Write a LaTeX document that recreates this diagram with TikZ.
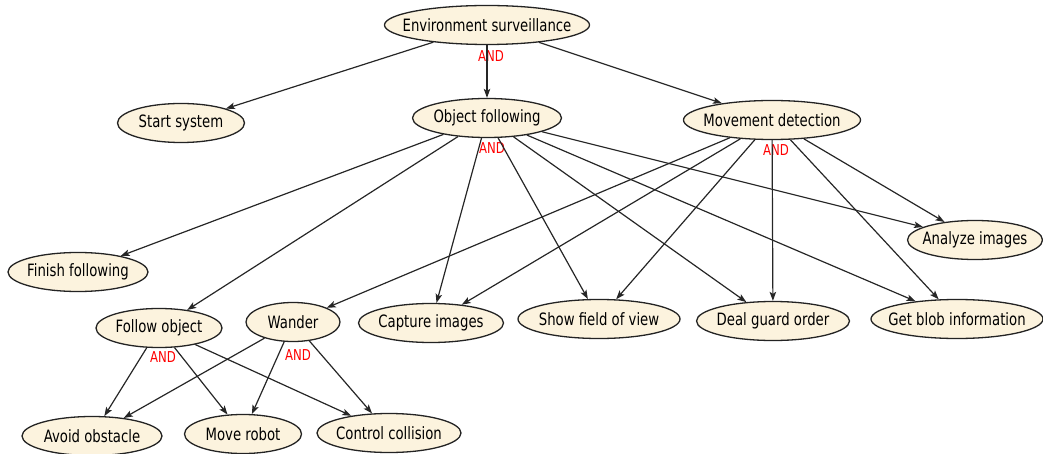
\documentclass[tikz,border=0pt]{standalone}
\usepackage{fontspec}
\setmainfont{DejaVu Sans}[FakeStretch=0.78]
\usetikzlibrary{shapes.geometric,arrows.meta}
\definecolor{goalfill}{RGB}{252,243,222}
\definecolor{goalline}{RGB}{35,35,35}
% goal text takes no width, so each ellipse keeps the size given to it
\newcommand\gtxt[1]{\makebox[0pt][c]{#1}}
\tikzset{
  goal/.style={ellipse, draw=goalline, line width=1.3pt, fill=goalfill,
    inner sep=0pt, minimum height=39, font=\fontsize{17}{19}\selectfont},
  andlabel/.style={text=red, inner sep=0pt, font=\fontsize{15}{17}\selectfont},
  link/.style={draw=black!85, line width=1.2pt,
    -{Stealth[length=9pt,width=6.5pt,inset=2pt]}}
}
\begin{document}
\begin{tikzpicture}[x=1pt,y=-1pt]
\useasboundingbox (0,0) rectangle (1043,454);

% goals
\node[goal, minimum width=205] (es)  at (487,25)  {\gtxt{Environment surveillance}};
\node[goal, minimum width=127] (ss)  at (181,123) {\gtxt{Start system}};
\node[goal, minimum width=149] (of)  at (487,118) {\gtxt{Object following}};
\node[goal, minimum width=177] (md)  at (772,120) {\gtxt{Movement detection}};
\node[goal, minimum width=140] (ff)  at (78,272)  {\gtxt{Finish following}};
\node[goal, minimum width=135] (ai)  at (975,240) {\gtxt{Analyze images}};
\node[goal, minimum width=126] (fo)  at (159,328) {\gtxt{Follow object}};
\node[goal, minimum width=94]  (wa)  at (293,322) {\gtxt{Wander}};
\node[goal, minimum width=145] (ci)  at (431,323) {\gtxt{Capture images}};
\node[goal, minimum width=162] (sfv) at (599,319) {\gtxt{Show field of view}};
\node[goal, minimum width=153] (dgo) at (773,321) {\gtxt{Deal guard order}};
\node[goal, minimum width=172] (gbi) at (957,319) {\gtxt{Get blob information}};
\node[goal, minimum width=140] (ao)  at (92,436)  {\gtxt{Avoid obstacle}};
\node[goal, minimum width=117] (mr)  at (243,434) {\gtxt{Move robot}};
\node[goal, minimum width=144] (cc)  at (389,433) {\gtxt{Control collision}};

% decomposition labels
\node[andlabel] (and1) at (491,56)  {AND};
\node[andlabel] (and2) at (492,148) {AND};
\node[andlabel] (and3) at (776,150) {AND};
\node[andlabel] (and4) at (163,357) {AND};
\node[andlabel] (and5) at (298,355) {AND};

% links
\path[link] (es) -- (ss);
\path[link] (es) -- (of);
\path[link] (es) -- (md);

\path[link] (of) -- (ff);
\path[link] (of) -- (fo);
\path[link] (of) -- (ci);
\path[link] (of) -- (sfv);
\path[link] (of) -- (dgo);
\path[link] (of) -- (gbi);
\path[link] (of) -- (ai);

\path[link] (md) -- (wa);
\path[link] (md) -- (ci);
\path[link] (md) -- (sfv);
\path[link] (md) -- (dgo);
\path[link] (md) -- (gbi);
\path[link] (md) -- (ai);

\path[link] (fo) -- (ao);
\path[link] (fo) -- (mr);
\path[link] (fo) -- (cc);
\path[link] (wa) -- (ao);
\path[link] (wa) -- (mr);
\path[link] (wa) -- (cc);
\end{tikzpicture}
\end{document}
